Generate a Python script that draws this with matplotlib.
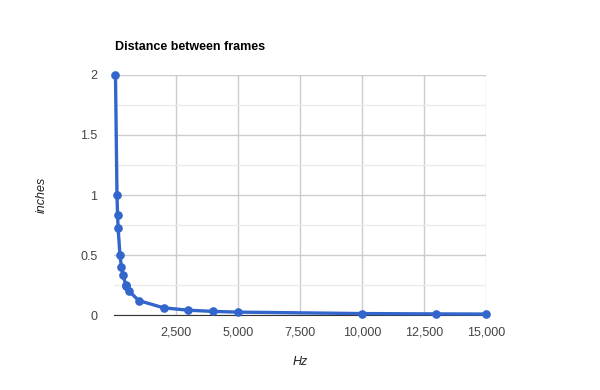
import matplotlib
matplotlib.use("Agg")
import matplotlib.pyplot as plt
from matplotlib.ticker import FuncFormatter, MultipleLocator

plt.rcParams['font.family'] = ['Liberation Sans', 'DejaVu Sans']

# frame rate (Hz) vs distance moved between frames (inches)
hz = [60, 120, 144, 165, 240, 300, 360, 480, 500, 600, 1000, 2000, 3000,
      4000, 5000, 10000, 13000, 15000]
inches = [2.0, 1.0, 0.833, 0.727, 0.5, 0.4, 0.333, 0.25, 0.24, 0.2, 0.12,
          0.06, 0.04, 0.03, 0.024, 0.012, 0.0092, 0.008]
x_ticks = [2500, 5000, 7500, 10000, 12500, 15000]

fig = plt.figure(figsize=(6, 3.9), dpi=100)
ax = fig.add_axes([0.19, 0.1923, 0.62, 0.6154])

ax.plot(hz, inches, '-o', color='#3366cc', linewidth=2.4, markersize=5.2,
        zorder=3, clip_on=False)

ax.set_xlim(0, 15000)
ax.set_ylim(0, 2)
ax.set_xticks(x_ticks)
ax.xaxis.set_major_formatter(FuncFormatter(lambda v, p: '{:,.0f}'.format(v)))
ax.yaxis.set_major_locator(MultipleLocator(0.5))
ax.yaxis.set_minor_locator(MultipleLocator(0.25))
ax.yaxis.set_major_formatter(FuncFormatter(lambda v, p: '{:g}'.format(v)))

ax.grid(True, which='major', color='#cccccc', linewidth=1)
ax.grid(True, which='minor', axis='y', color='#ebebeb', linewidth=1)
ax.set_axisbelow(True)
for s in ['top', 'right', 'left']:
    ax.spines[s].set_visible(False)
ax.spines['bottom'].set_color('#333333')
ax.tick_params(which='both', length=0, labelsize=9, colors='#444444', pad=8)
ax.tick_params(axis='y', pad=12)

fig.text(115/600, 1 - 47/390, 'Distance between frames', fontsize=9,
         fontweight='bold', va='center', ha='left')
fig.text(42/600, 1 - 195/390, 'inches', fontsize=9, style='italic',
         rotation=90, va='center', ha='center', color='#222222')
fig.text(300/600, 1 - 362/390, 'Hz', fontsize=9, style='italic',
         va='center', ha='center', color='#222222')

fig.savefig('out.png', dpi=100)
